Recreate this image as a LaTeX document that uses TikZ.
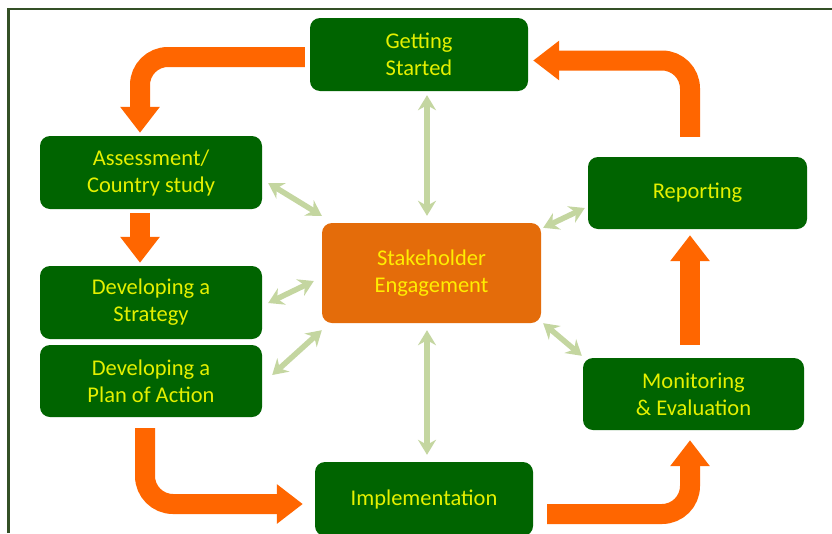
\documentclass[tikz,border=0pt]{standalone}
\usepackage{fontspec}
\setmainfont{Carlito}
\usetikzlibrary{arrows.meta,calc}
\pgfdeclarelayer{bg}
\pgfsetlayers{bg,main}
\definecolor{boxgreen}{RGB}{0,100,0}
\definecolor{txtyellow}{RGB}{228,240,0}
\definecolor{seorange}{RGB}{228,108,10}
\definecolor{arrorange}{RGB}{255,102,0}
\definecolor{lightgr}{RGB}{196,214,160}
\definecolor{frame}{RGB}{52,80,38}
\tikzset{
  stepbox/.style={draw=none, fill=boxgreen, rounded corners=10pt, inner sep=0pt,
    minimum width=220pt, minimum height=73pt, align=center, text=txtyellow,
    font=\fontsize{22.5}{27}\selectfont},
  sebox/.style={stepbox, fill=seorange, text=yellow!95!orange, minimum width=219pt, minimum height=100pt},
  oarrow/.style={draw=arrorange, line width=20pt, rounded corners=28pt,
    -{Triangle[width=38pt,length=26pt]}},
  garrow/.style={draw=lightgr, line width=5.5pt,
    {Stealth[length=15pt,width=18pt,inset=5pt]}-{Stealth[length=15pt,width=18pt,inset=5pt]}}
}
\begin{document}
\begin{tikzpicture}[x=1pt,y=-1pt]
\useasboundingbox (0,0) rectangle (832,533);
\fill[white] (0,0) rectangle (832,533);
\draw[frame, line width=2.5pt] (8.5,533) -- (8.5,9) -- (832,9);

\node[stepbox, minimum width=218pt] (gs) at (419,54.5) {Getting\\Started};
\node[stepbox, minimum width=222pt] (ass) at (151,172.5) {Assessment/\\Country study};
\node[stepbox, minimum width=222pt] (strat) at (151,302.5) {Developing a\\Strategy};
\node[stepbox, minimum width=222pt, minimum height=72pt] (plan) at (151,381) {Developing a\\Plan of Action};
\node[sebox] (se) at (431.5,273) {Stakeholder\\Engagement};
\node[stepbox, minimum width=219pt, minimum height=72pt] (rep) at (697.5,193) {Reporting};
\node[stepbox, minimum width=221pt, minimum height=72pt] (mon) at (693.5,394) {Monitoring\\\& Evaluation};
\node[stepbox, minimum width=218pt, minimum height=74pt] (impl) at (424,499) {Implementation};

\begin{pgfonlayer}{bg}
\fill[arrorange] ($(strat.south)+(-18,-4)$) rectangle ($(plan.north)+(2,4)$);
\end{pgfonlayer}

% orange process arrows
\draw[oarrow] ($(gs.west)+(-5,2.5)$) -| ($(ass.north)+(-11,-3)$);
\draw[oarrow, rounded corners=0pt] ($(ass.south)+(-11,4)$) -- ($(strat.north)+(-11,-3)$);
\draw[oarrow] ($(plan.south)+(-6,11)$) |- ($(impl.west)+(-12,5)$);
\draw[oarrow] ($(impl.east)+(14,15)$) -| ($(mon.south)+(-3.5,10)$);
\draw[oarrow, rounded corners=0pt] ($(mon.north)+(-3.5,-13)$) -- ($(rep.south)+(-7.5,6)$);
\draw[oarrow] ($(rep.north)+(-7.5,-20)$) |- ($(gs.east)+(5,6)$);

% light green engagement arrows
\draw[garrow] ($(gs.south)+(8,4)$) -- ($(se.north)+(-4.5,-7)$);
\draw[garrow] ($(se.south)+(-4.5,7)$) -- ($(impl.north)+(3,-7)$);
\draw[garrow] ($(ass.east)+(6,10.5)$) -- ($(se.north west)+(0,-7)$);
\draw[garrow] ($(strat.east)+(6,0.5)$) -- ($(se.west)+(-8,8)$);
\draw[garrow] ($(plan.east)+(10,-6)$) -- ($(se.south west)+(0,7)$);
\draw[garrow] ($(se.north east)+(2,5)$) -- ($(rep.west)+(-3,15)$);
\draw[garrow] ($(se.south east)+(2,0)$) -- ($(mon.north west)+(-1,-2)$);
\end{tikzpicture}
\end{document}
